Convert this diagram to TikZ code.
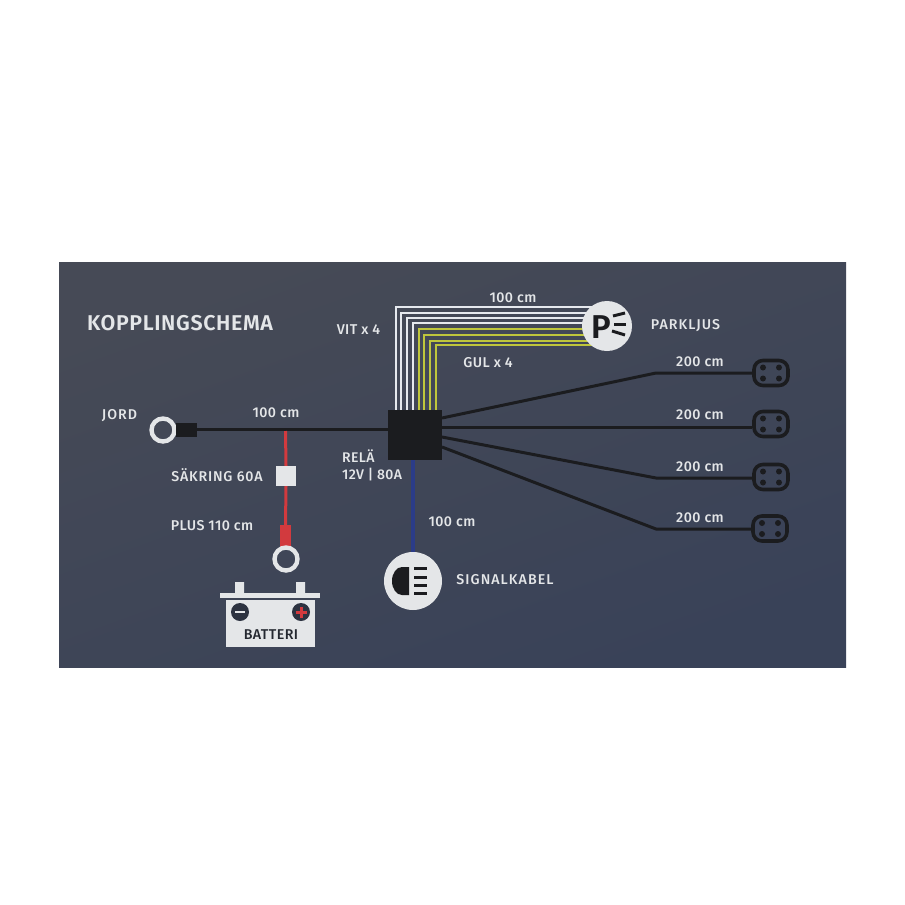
\documentclass[tikz,border=0pt]{standalone}
\usepackage{fontspec}
\setmainfont{Fira Sans Medium}[BoldFont=Fira Sans SemiBold]
\usetikzlibrary{arrows.meta,positioning}
\definecolor{panelA}{HTML}{464A56}
\definecolor{panelB}{HTML}{394258}
\definecolor{ink}{HTML}{1B1C1F}
\definecolor{paper}{HTML}{E4E6E8}
\definecolor{wirewhite}{HTML}{E6E9EE}
\definecolor{wireyellow}{HTML}{BFC63C}
\definecolor{wirered}{HTML}{D23A3E}
\definecolor{wireblue}{HTML}{2B3C88}
\begin{document}
\begin{tikzpicture}[x=1pt,y=-1pt]
  \tikzstyle{lbl}=[text=paper,font=\fontsize{14.2}{16}\selectfont\addfontfeatures{LetterSpace=3},inner sep=0pt,align=left]
  \tikzstyle{lblw}=[lbl,font=\fontsize{14.2}{16}\selectfont\addfontfeatures{LetterSpace=7.5}]
  \tikzstyle{wire}=[line width=1.6pt]
  \tikzstyle{cable}=[draw=ink,line width=3pt,line join=round]
  \tikzstyle{ring}=[circle,draw=paper,line width=4.4pt,minimum size=23pt,inner sep=0pt]
  \tikzstyle{disc}=[circle,fill=paper,inner sep=0pt]
  \tikzstyle{plug}=[rounded corners=9pt,draw=ink,line width=3.6pt,minimum width=34pt,minimum height=25pt,inner sep=0pt]
  \tikzstyle{bar}=[line width=3pt,draw=ink]
  \useasboundingbox(0,0)rectangle(905,905);
  \fill[white](0,0)rectangle(905,905);
  \shade[top color=panelA,bottom color=panelB,shading angle=20](59,262)rectangle(846,667.5);
  \node[lbl,font=\fontsize{21.4}{23}\selectfont\addfontfeatures{LetterSpace=3}\bfseries](title)at(180,323){KOPPLINGSCHEMA};
  % parkljus wires
  \foreach\i/\x/\y/\c in{1/396/307/wirewhite,2/401/313/wirewhite,3/407/318/wirewhite,4/413/323/wirewhite,5/419/329/wireyellow,6/424/335/wireyellow,7/430/341/wireyellow,8/436/345/wireyellow}{
    \coordinate(a\i)at(\x,411);
    \coordinate(b\i)at(\x,\y);
    \coordinate(c\i)at(595,\y);
    \draw[wire,draw=\c](a\i)--(b\i)--(c\i);
  }
  \node[disc,minimum size=50pt](park)at(607,326){};
  \node[text=ink,font=\fontsize{33}{33}\selectfont\bfseries,inner sep=0pt](parkp)at(601,327){P};
  \coordinate(r1a)at(613,316);\coordinate(r1b)at(625,313);
  \coordinate(r2a)at(614,324);\coordinate(r2b)at(626,324);
  \coordinate(r3a)at(612,331);\coordinate(r3b)at(625,335);
  \foreach\o/\d in{r1a/r1b,r2a/r2b,r3a/r3b}{\draw[bar](\o)--(\d);}
  \node[lbl](l100a)at(513,297.5){100 cm};
  \node[lbl](lvit)at(358.5,329.5){VIT x 4};
  \node[lbl](lgul)at(488,362.5){GUL x 4};
  \node[lblw](lpark)at(685.5,325.5){PARKLJUS};
  % signal
  \node[minimum width=54pt,minimum height=50pt,fill=ink,inner sep=0pt](rela)at(415,435){};
  \node[disc,minimum size=58pt](signal)at(413,581){};
  \draw[wireblue,line width=3.4pt](rela.south-|signal.north)--(signal.north);
  \fill[ink](409,567)--(402,567)arc(90:270:10pt and 14pt)--(409,595)--cycle;
  \foreach\y in{568,577,585,593}{\draw[bar](414,\y)--(427,\y);}
  \node[lbl](l100c)at(452,521.5){100 cm};
  \node[lblw](lsig)at(505,579.5){SIGNALKABEL};
  % jord
  \node[ring](jord)at(163,430){};
  \node[fill=ink,minimum width=21pt,minimum height=14pt,inner sep=0pt](lug)at(186.5,429.5){};
  \draw[cable](lug.east)--(lug.east-|rela.west);
  \node[lblw](ljord)at(119.5,415.5){JORD};
  \node[lbl](l100b)at(276,412.5){100 cm};
  % plus
  \coordinate(tap)at(285.5,431);
  \node[fill=paper,minimum size=20pt,inner sep=0pt](fuse)at(286,476){};
  \node[fill=wirered,minimum width=11pt,minimum height=22pt,inner sep=0pt](lugr)at(285.5,536){};
  \draw[wirered,line width=3pt](tap)--(fuse.north);
  \draw[wirered,line width=3pt](fuse.south)--(lugr.north);
  \node[ring](plus)at(286,559){};
  \node[lbl,font=\fontsize{14.2}{16}\selectfont\addfontfeatures{LetterSpace=5.5}](lsak)at(217,475.5){SÄKRING 60A};
  \node[lbl](lplus)at(212,525.5){PLUS 110 cm};
  % batteri
  \fill[paper](235,582)rectangle(244,593)(296,582)rectangle(305,593);
  \fill[paper](220,593)rectangle(320,597.5);
  \fill[paper](226,599.5)rectangle(315,647);
  \node[disc,fill=panelB!60!ink,minimum size=18pt](minus)at(240,612){};
  \node[disc,fill=panelB!60!ink,minimum size=18pt](plusp)at(301,612){};
  \draw[paper,line width=2.4pt](235,612)--(245,612);
  \draw[wirered,line width=3pt](295.5,612.5)--(306.5,612.5)(301,607)--(301,618);
  \node[lbl,text=ink!70!panelB,font=\fontsize{14.2}{16}\selectfont\addfontfeatures{LetterSpace=3}](batt)at(271,634.5){BATTERI};
  \node[lbl,anchor=west,font=\fontsize{14}{16}\selectfont\addfontfeatures{LetterSpace=2.5}](lrela)at(342,465){RELÄ\\[1pt]12V | 80A};
  % plugs
  \foreach\i/\yy/\xx/\ya/\yb in{1/373/771/418/373,2/424/771/427/427,3/477/771/437/478,4/528.5/770/447/529}{
    \node[plug](p\i)at(\xx,\yy){};
    \foreach\dx in{-8,8}{\foreach\dy in{-5.5,5.5}{\fill[ink](\xx+\dx,\yy+\dy)circle(3pt);}}
    \coordinate(s\i)at(442,\ya);
    \coordinate(m\i)at(656,\yb);
    \draw[cable](s\i)--(m\i)--(m\i-|p\i.west);
  }
  \node[lbl](d1)at(700,361.5){200 cm};
  \node[lbl](d2)at(700,414.5){200 cm};
  \node[lbl](d3)at(700,466.5){200 cm};
  \node[lbl](d4)at(700,517.5){200 cm};
\end{tikzpicture}
\end{document}
